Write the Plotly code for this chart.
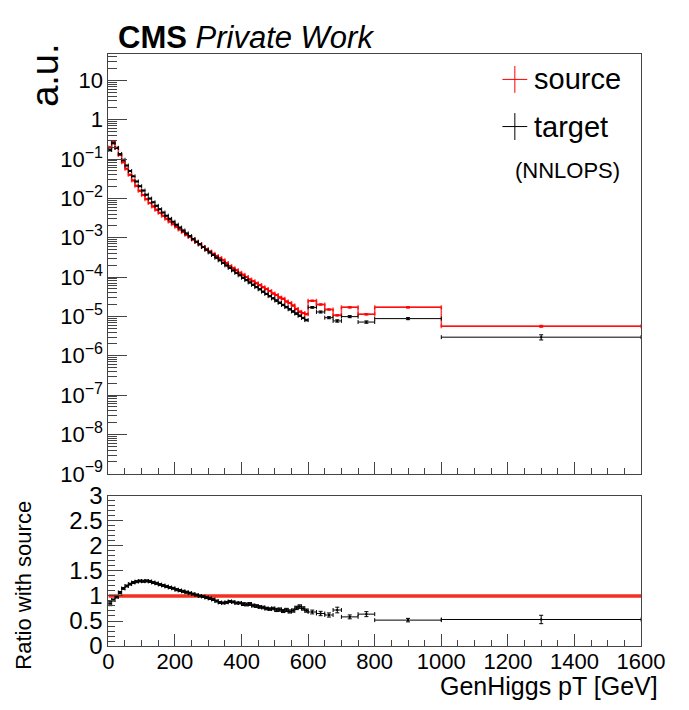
import math
import plotly.graph_objects as go

# ---------------- data ----------------
# GenHiggs pT binning [GeV]: 10 GeV bins up to 600, then wider bins
bin_edges = [0, 10, 20, 30, 40, 50, 60, 70, 80, 90,
             100, 110, 120, 130, 140, 150, 160, 170, 180, 190,
             200, 210, 220, 230, 240, 250, 260, 270, 280, 290,
             300, 310, 320, 330, 340, 350, 360, 370, 380, 390,
             400, 410, 420, 430, 440, 450, 460, 470, 480, 490,
             500, 510, 520, 530, 540, 550, 560, 570, 580, 590,
             600, 625, 650, 675, 700, 750, 800, 1000, 1600]

# normalised bin contents (a.u.)
source = [0.200, 0.273, 0.1945, 0.126, 0.0830, 0.0570, 0.0400, 0.0286, 0.0209, 0.0157,
          0.0122, 0.00957, 0.00766, 0.00625, 0.00516, 0.00430, 0.00361, 0.00305, 0.00259, 0.00221,
          0.00190, 0.00163, 0.00140, 0.00120, 0.00104, 9.00e-4, 7.80e-4, 6.79e-4, 5.85e-4, 5.11e-4,
          4.46e-4, 3.90e-4, 3.46e-4, 3.07e-4, 2.67e-4, 2.27e-4, 1.92e-4, 1.68e-4, 1.49e-4, 1.29e-4,
          1.15e-4, 1.01e-4, 8.71e-5, 7.88e-5, 6.97e-5, 6.25e-5, 5.54e-5, 4.99e-5, 4.44e-5, 3.84e-5,
          3.51e-5, 3.05e-5, 2.80e-5, 2.40e-5, 2.20e-5, 1.89e-5, 1.55e-5, 1.32e-5, 1.22e-5, 1.14e-5,
          2.5e-5, 2.0e-5, 1.5e-5, 1.07e-5, 1.7e-5, 1.13e-5, 1.7e-5, 5.6e-6]

target = [0.170, 0.251, 0.191, 0.135, 0.0955, 0.0684, 0.0495, 0.0363, 0.0269, 0.0204,
          0.0158, 0.01245, 0.00989, 0.00794, 0.00646, 0.00528, 0.00437, 0.00363, 0.00303, 0.00255,
          0.00214, 0.00181, 0.00153, 0.00129, 0.00110, 9.35e-4, 7.96e-4, 6.79e-4, 5.79e-4, 4.95e-4,
          4.24e-4, 3.63e-4, 3.11e-4, 2.67e-4, 2.30e-4, 1.98e-4, 1.71e-4, 1.48e-4, 1.28e-4, 1.11e-4,
          9.64e-5, 8.39e-5, 7.31e-5, 6.38e-5, 5.57e-5, 4.88e-5, 4.27e-5, 3.74e-5, 3.28e-5, 2.88e-5,
          2.53e-5, 2.22e-5, 1.96e-5, 1.73e-5, 1.52e-5, 1.34e-5, 1.18e-5, 1.04e-5, 9.16e-6, 8.07e-6,
          1.70e-5, 1.30e-5, 9.3e-6, 7.7e-6, 9.9e-6, 7.2e-6, 8.8e-6, 2.97e-6]

# relative statistical uncertainties per bin
source_relerr = [0.010, 0.010, 0.010, 0.010, 0.010, 0.010, 0.010, 0.010, 0.010, 0.010,
                 0.010, 0.010, 0.010, 0.010, 0.010, 0.010, 0.010, 0.010, 0.010, 0.010,
                 0.010, 0.010, 0.010, 0.010, 0.010, 0.010, 0.010, 0.010, 0.010, 0.010,
                 0.010, 0.010, 0.010, 0.010, 0.010, 0.010, 0.010, 0.010, 0.010, 0.010,
                 0.015, 0.015, 0.015, 0.015, 0.015, 0.015, 0.015, 0.015, 0.015, 0.015,
                 0.020, 0.020, 0.020, 0.020, 0.020, 0.020, 0.020, 0.020, 0.020, 0.020,
                 0.025, 0.030, 0.030, 0.035, 0.030, 0.035, 0.030, 0.050]

target_relerr = [0.050, 0.020, 0.020, 0.015, 0.012, 0.012, 0.012, 0.012, 0.012, 0.012,
                 0.012, 0.012, 0.012, 0.012, 0.012, 0.012, 0.012, 0.012, 0.012, 0.012,
                 0.015, 0.015, 0.015, 0.015, 0.015, 0.015, 0.015, 0.015, 0.015, 0.015,
                 0.020, 0.020, 0.020, 0.020, 0.020, 0.020, 0.020, 0.020, 0.020, 0.020,
                 0.030, 0.030, 0.030, 0.030, 0.030, 0.030, 0.030, 0.030, 0.030, 0.030,
                 0.040, 0.040, 0.040, 0.040, 0.040, 0.040, 0.040, 0.040, 0.040, 0.040,
                 0.050, 0.060, 0.060, 0.070, 0.060, 0.070, 0.060, 0.150]

main_y_tickvals = [1e-9, 1e-8, 1e-7, 1e-6, 1e-5, 1e-4, 1e-3, 1e-2, 1e-1, 1, 10]
main_y_exponents = ["−9", "−8", "−7", "−6", "−5", "−4", "−3", "−2", "−1"]
ratio_y_tickvals = [0, 0.5, 1, 1.5, 2, 2.5, 3]
ratio_y_ticktext = ["0", "0.5", "1", "1.5", "2", "2.5", "3"]
x_tickvals = [0, 200, 400, 600, 800, 1000, 1200, 1400, 1600]
x_ticktext = ["0", "200", "400", "600", "800", "1000", "1200", "1400", "1600"]

# ---------------- derived quantities ----------------
centers = [(lo + hi) / 2 for lo, hi in zip(bin_edges[:-1], bin_edges[1:])]
half_w = [(hi - lo) / 2 for lo, hi in zip(bin_edges[:-1], bin_edges[1:])]
source_err = [v * e for v, e in zip(source, source_relerr)]
target_err = [v * e for v, e in zip(target, target_relerr)]
ratio = [t / s for t, s in zip(target, source)]
ratio_err = [r * math.sqrt(et ** 2 + es ** 2)
             for r, et, es in zip(ratio, target_relerr, source_relerr)]
source_self = [s / s for s in source]

main_y_ticktext = ["10<sup><span style='font-size:16px'>%s</span></sup>" % e
                   for e in main_y_exponents] + ["1", "10"]

W, H = 689, 710
FONT = "Liberation Sans, Arial, sans-serif"
RED = "rgba(255,0,0,0.75)"
AXCOL = "#444444"


def px(x):
    return x / W


def py(y):
    return 1 - y / H


fig = go.Figure()

# main pad: source as step histogram with error bars
fig.add_trace(go.Scatter(
    x=bin_edges, y=source + [source[-1]], mode="lines", line_shape="hv",
    line=dict(color=RED, width=1.5), xaxis="x", yaxis="y", hoverinfo="skip"))
fig.add_trace(go.Scatter(
    x=centers, y=source, mode="markers",
    marker=dict(symbol="square", size=2, color="red"),
    error_x=dict(type="data", array=half_w, color=RED, thickness=1.5, width=2),
    error_y=dict(type="data", array=source_err, color=RED, thickness=1.5, width=2),
    xaxis="x", yaxis="y"))

# main pad: target with error bars
fig.add_trace(go.Scatter(
    x=centers, y=target, mode="markers",
    marker=dict(symbol="square", size=2, color="black"),
    error_x=dict(type="data", array=half_w, color="black", thickness=1, width=2),
    error_y=dict(type="data", array=target_err, color="black", thickness=1, width=2),
    xaxis="x", yaxis="y"))

# ratio pad: source / source
fig.add_trace(go.Scatter(
    x=bin_edges, y=source_self + [source_self[-1]], mode="lines", line_shape="hv",
    line=dict(color="#f5301f", width=3.5), xaxis="x2", yaxis="y2", hoverinfo="skip"))
# ratio pad: target / source
fig.add_trace(go.Scatter(
    x=centers, y=ratio, mode="markers",
    marker=dict(symbol="square", size=2, color="black"),
    error_x=dict(type="data", array=half_w, color="black", thickness=1, width=2),
    error_y=dict(type="data", array=ratio_err, color="black", thickness=1, width=2),
    xaxis="x2", yaxis="y2"))

x_dom = [px(107), px(664)]
common_x = dict(domain=x_dom, range=[0, 1600], showgrid=False, zeroline=False,
                showline=True, mirror=True, linecolor=AXCOL, linewidth=1,
                ticks="inside", tickcolor=AXCOL, tickvals=x_tickvals, ticklen=12,
                minor=dict(ticks="inside", dtick=50, tick0=0, ticklen=6, tickcolor=AXCOL))

fig.update_layout(
    width=W, height=H, margin=dict(l=0, r=0, t=0, b=0),
    paper_bgcolor="white", plot_bgcolor="white", showlegend=False,
    font=dict(family=FONT, color="black"),
    xaxis=dict(common_x, anchor="y", showticklabels=False),
    yaxis=dict(domain=[py(478), py(42)], type="log", range=[-9, 1.66],
               showgrid=False, zeroline=False, showline=True, mirror=True,
               linecolor=AXCOL, linewidth=1, anchor="x",
               ticks="inside", tickcolor=AXCOL, ticklen=19,
               tickvals=main_y_tickvals, ticktext=main_y_ticktext,
               tickfont=dict(size=22, family=FONT),
               minor=dict(ticks="inside", dtick="D1", ticklen=9, tickcolor=AXCOL)),
    xaxis2=dict(common_x, anchor="y2", ticktext=x_ticktext,
                ticklabeloverflow="allow", ticklabelstandoff=-4,
                tickfont=dict(size=22, family=FONT)),
    yaxis2=dict(domain=[py(657), py(501)], range=[0, 3], anchor="x2",
                showgrid=False, zeroline=False, showline=True, mirror=True,
                linecolor=AXCOL, linewidth=1,
                ticks="inside", tickcolor=AXCOL, ticklen=15,
                tickvals=ratio_y_tickvals, ticktext=ratio_y_ticktext,
                tickfont=dict(size=24, family=FONT),
                minor=dict(ticks="inside", dtick=0.1, tick0=0, ticklen=7, tickcolor=AXCOL)),
)

annotations = [
    dict(text="<b>CMS</b> <i>Private Work</i>", x=px(115), y=py(24),
         xanchor="left", yanchor="middle", font=dict(size=31, family=FONT)),
    dict(text="a.u.", x=px(40), y=py(64), textangle=-90,
         xanchor="center", yanchor="middle", font=dict(size=38, family=FONT)),
    dict(text="source", x=px(550), y=py(68), xanchor="left", yanchor="middle",
         font=dict(size=29, family=FONT)),
    dict(text="target", x=px(550), y=py(117), xanchor="left", yanchor="middle",
         font=dict(size=29, family=FONT)),
    dict(text="(NNLOPS)", x=px(530), y=py(163), xanchor="left", yanchor="middle",
         font=dict(size=22, family=FONT)),
    dict(text="GenHiggs pT [GeV]", x=px(684), y=py(699), xanchor="right",
         yanchor="middle", font=dict(size=25, family=FONT)),
    dict(text="Ratio with source", x=px(18), y=py(594), textangle=-90,
         xanchor="center", yanchor="middle", font=dict(size=22, family=FONT)),
]
for a in annotations:
    a.update(xref="paper", yref="paper", showarrow=False)
fig.update_layout(annotations=annotations)

# legend glyphs (crosses)
legend_shapes = []
for yc, col in [(68, "red"), (117, "black")]:
    legend_shapes.append(dict(type="line", xref="paper", yref="paper",
                              x0=px(519), x1=px(545), y0=py(yc), y1=py(yc),
                              line=dict(color=col, width=1)))
    legend_shapes.append(dict(type="line", xref="paper", yref="paper",
                              x0=px(532), x1=px(532), y0=py(yc - 14), y1=py(yc + 14),
                              line=dict(color=col, width=1)))
fig.update_layout(shapes=legend_shapes)

fig.write_html("out.html")
